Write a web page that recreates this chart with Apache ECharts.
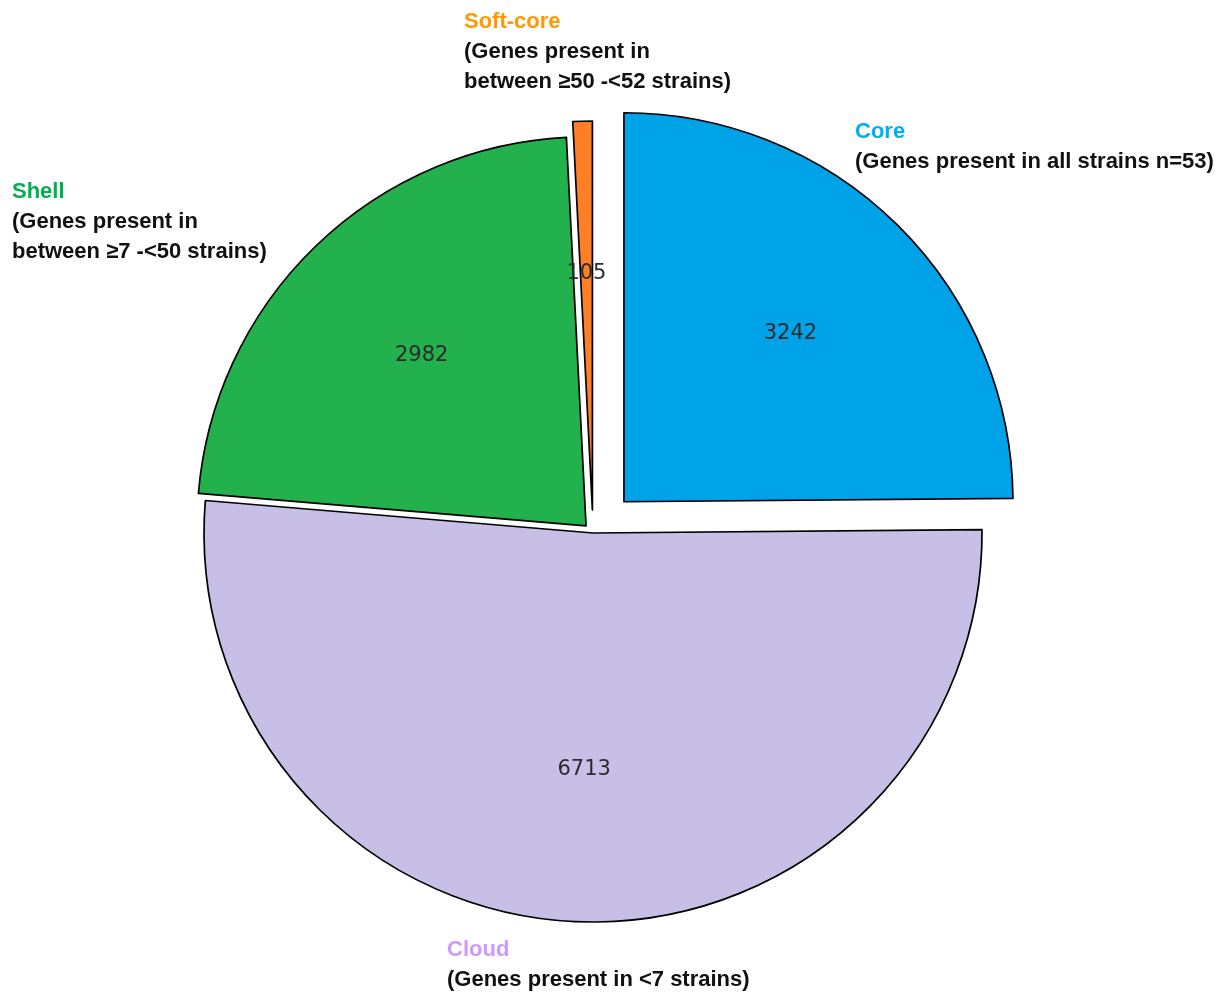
<!DOCTYPE html>
<html>
<head>
<meta charset="utf-8">
<script src="https://cdn.jsdelivr.net/npm/echarts@6/dist/echarts.min.js"></script>
<style>
  html, body { margin: 0; padding: 0; background: #ffffff; }
  #chart { width: 1230px; height: 992px; }
</style>
</head>
<body>
<div id="chart"></div>
<script>
// Pan-genome partition: number of genes in each category (clockwise from 12 o'clock)
const groups = ['Core', 'Cloud', 'Shell', 'Soft-core'];
const geneCounts = [3242, 6713, 2982, 105];
const descriptions = [
  '(Genes present in all strains n=53)',
  '(Genes present in <7 strains)',
  '(Genes present in\nbetween ≥7 -<50 strains)',
  '(Genes present in\nbetween ≥50 -<52 strains)'
];

// Styling
const sliceColors = ['#00a2e8', '#c8bfe7', '#22b14c', '#ff7f27'];
const titleColors = ['#00b0f0', '#cc99ff', '#00b050', '#ff9900'];
const explodeOffsets = [44, 0, 10, 23];            // px pulled out along each slice's bisector
const captionAnchors = [[855, 136], [447, 954], [12, 196], [464, 26]]; // left edge, first-line centre

const PIE_CENTER = [593, 533];
const PIE_RADIUS = 389;

const series = [];
groups.forEach((g, i) => {
  // Sector for slice i (other slices invisible so each slice gets its own offset)
  series.push({
    type: 'pie',
    center: PIE_CENTER,
    radius: PIE_RADIUS,
    startAngle: 90,
    clockwise: true,
    avoidLabelOverlap: false,
    selectedMode: 'multiple',
    selectedOffset: explodeOffsets[i],
    animation: false,
    silent: true,
    emphasis: { disabled: true, scale: false },
    label: { show: false },
    labelLine: { show: false },
    data: geneCounts.map((v, j) => ({
      name: groups[j],
      value: v,
      selected: j === i && explodeOffsets[i] > 0,
      itemStyle: j === i
        ? { color: sliceColors[j], borderColor: '#000000', borderWidth: 1.7 }
        : { color: 'rgba(0,0,0,0)', borderWidth: 0 }
    }))
  });
  // Value label for slice i, placed at 60% of the radius
  series.push({
    type: 'pie',
    center: PIE_CENTER,
    radius: [PIE_RADIUS * 0.2, PIE_RADIUS],
    startAngle: 90,
    clockwise: true,
    avoidLabelOverlap: false,
    selectedMode: 'multiple',
    selectedOffset: explodeOffsets[i],
    animation: false,
    silent: true,
    emphasis: { disabled: true, scale: false },
    labelLine: { show: false },
    itemStyle: { color: 'rgba(0,0,0,0)', borderWidth: 0 },
    data: geneCounts.map((v, j) => ({
      name: groups[j],
      value: v,
      selected: j === i && explodeOffsets[i] > 0,
      label: {
        show: j === i,
        position: 'inside',
        formatter: '{c}',
        color: '#2b2b2b',
        fontFamily: 'DejaVu Sans',
        fontSize: 21
      }
    }))
  });
});

// Category captions
const graphic = groups.map((g, i) => ({
  type: 'text',
  left: captionAnchors[i][0],
  top: captionAnchors[i][1] - 15,
  silent: true,
  style: {
    text: '{t|' + g + '}\n' + descriptions[i].split('\n').map(s => '{d|' + s + '}').join('\n'),
    rich: {
      t: { fontFamily: 'Liberation Sans', fontWeight: 'bold', fontSize: 22, lineHeight: 30, fill: titleColors[i], color: titleColors[i] },
      d: { fontFamily: 'Liberation Sans', fontWeight: 'bold', fontSize: 22, lineHeight: 30, fill: '#111111', color: '#111111' }
    }
  }
}));

const chart = echarts.init(document.getElementById('chart'), null, { renderer: 'canvas' });
chart.setOption({
  backgroundColor: '#ffffff',
  animation: false,
  series: series,
  graphic: graphic
});
</script>
</body>
</html>
